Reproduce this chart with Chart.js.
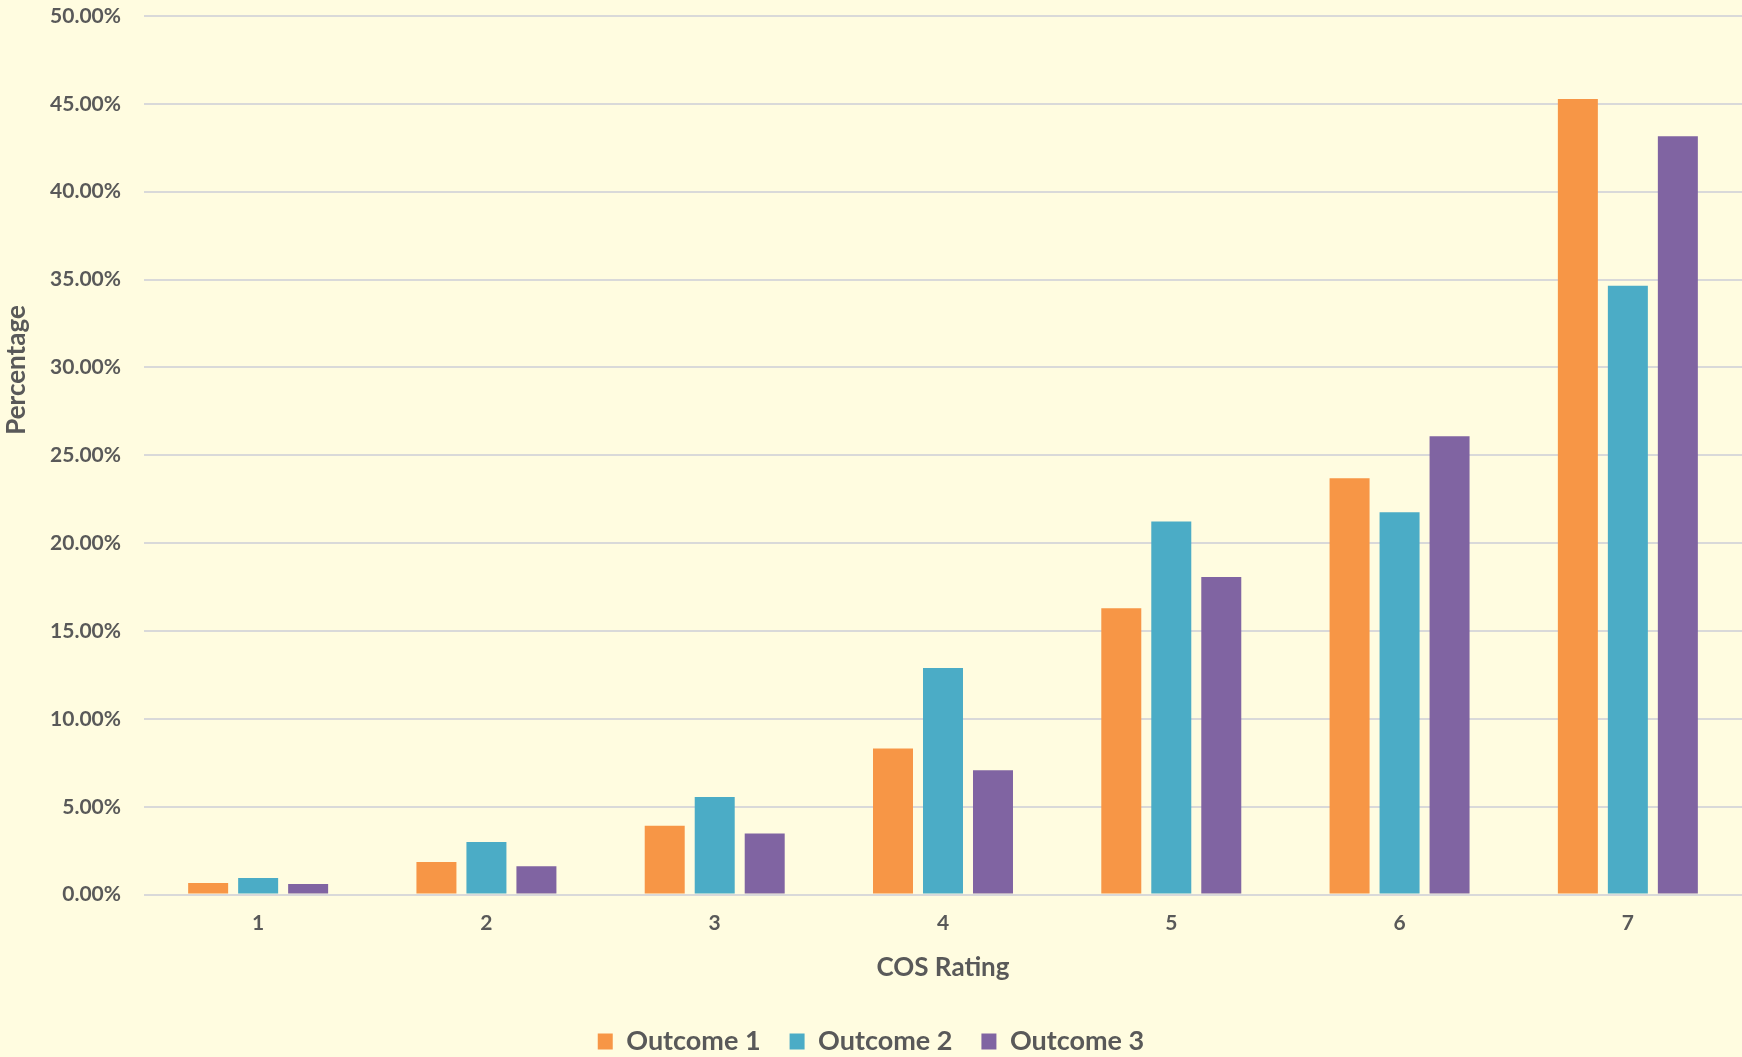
<!DOCTYPE html>
<html>
<head>
<meta charset="utf-8">
<title>COS Rating distribution</title>
<script src="https://cdn.jsdelivr.net/npm/chart.js@4.4.1/dist/chart.umd.min.js"></script>
<style>
  html, body { margin: 0; padding: 0; background: #FFFCE0; }
  #wrap { width: 1742px; height: 1057px; position: relative; }
  canvas { display: block; }
</style>
</head>
<body>
<div id="wrap"><canvas id="chart" width="1742" height="1057"></canvas></div>
<script>
// COS rating categories and the share (%) of responses per outcome
const ratings = ['1', '2', '3', '4', '5', '6', '7'];
const outcome1 = [0.66, 1.86, 3.92, 8.32, 16.30, 23.69, 45.27];
const outcome2 = [0.95, 2.99, 5.56, 12.90, 21.23, 21.76, 34.65];
const outcome3 = [0.61, 1.61, 3.48, 7.07, 18.07, 26.08, 43.15];
const seriesNames = ['Outcome 1', 'Outcome 2', 'Outcome 3'];
const seriesColors = ['#F79646', '#4BACC6', '#8064A2'];

const TEXT = '#595959';
const FONT = 'Lato, "Open Sans", sans-serif';
const BG = '#FFFCE0';

// fills the canvas background and writes the vertical axis caption
const chartDecor = {
  id: 'chartDecor',
  beforeDraw(chart) {
    const ctx = chart.ctx;
    ctx.save();
    ctx.fillStyle = BG;
    ctx.fillRect(0, 0, chart.width, chart.height);
    ctx.restore();
  },
  afterDraw(chart) {
    const ctx = chart.ctx;
    ctx.save();
    ctx.translate(17, 370);
    ctx.rotate(-Math.PI / 2);
    ctx.fillStyle = TEXT;
    ctx.font = 'bold 26px ' + FONT;
    ctx.textAlign = 'center';
    ctx.textBaseline = 'middle';
    ctx.fillText('Percentage', 0, 0);
    ctx.restore();
  }
};

const datasets = [outcome1, outcome2, outcome3].map((vals, i) => ({
  label: seriesNames[i],
  data: vals,
  backgroundColor: seriesColors[i],
  borderWidth: 0,
  barPercentage: 0.8,
  categoryPercentage: 0.657
}));

new Chart(document.getElementById('chart'), {
  type: 'bar',
  data: { labels: ratings, datasets },
  plugins: [chartDecor],
  options: {
    responsive: false,
    animation: false,
    layout: { padding: { top: 16, right: 0, left: 0, bottom: -8 } },
    plugins: {
      tooltip: { enabled: false },
      legend: {
        position: 'bottom',
        labels: {
          color: TEXT,
          font: { family: FONT, size: 27, weight: 'bold' },
          boxWidth: 15,
          boxHeight: 16,
          padding: 29
        }
      }
    },
    scales: {
      x: {
        grid: { display: false, drawTicks: false },
        border: { display: false },
        ticks: {
          color: TEXT,
          font: { family: FONT, size: 21, weight: 'bold' },
          padding: 16
        },
        title: {
          display: true,
          text: 'COS Rating',
          color: TEXT,
          font: { family: FONT, size: 26, weight: 'bold' },
          padding: { top: 0, bottom: 16 }
        }
      },
      y: {
        min: 0,
        max: 50,
        afterFit(scale) {
          scale.width = 144;
          scale.paddingTop = 0;
          scale.paddingBottom = 0;
        },
        grid: { color: '#D9D9D9', lineWidth: 2, drawTicks: false },
        border: { display: false },
        ticks: {
          stepSize: 5,
          color: TEXT,
          font: { family: FONT, size: 21, weight: 'bold' },
          padding: 23,
          callback: v => v.toFixed(2) + '%'
        }
      }
    }
  }
});
</script>
</body>
</html>
